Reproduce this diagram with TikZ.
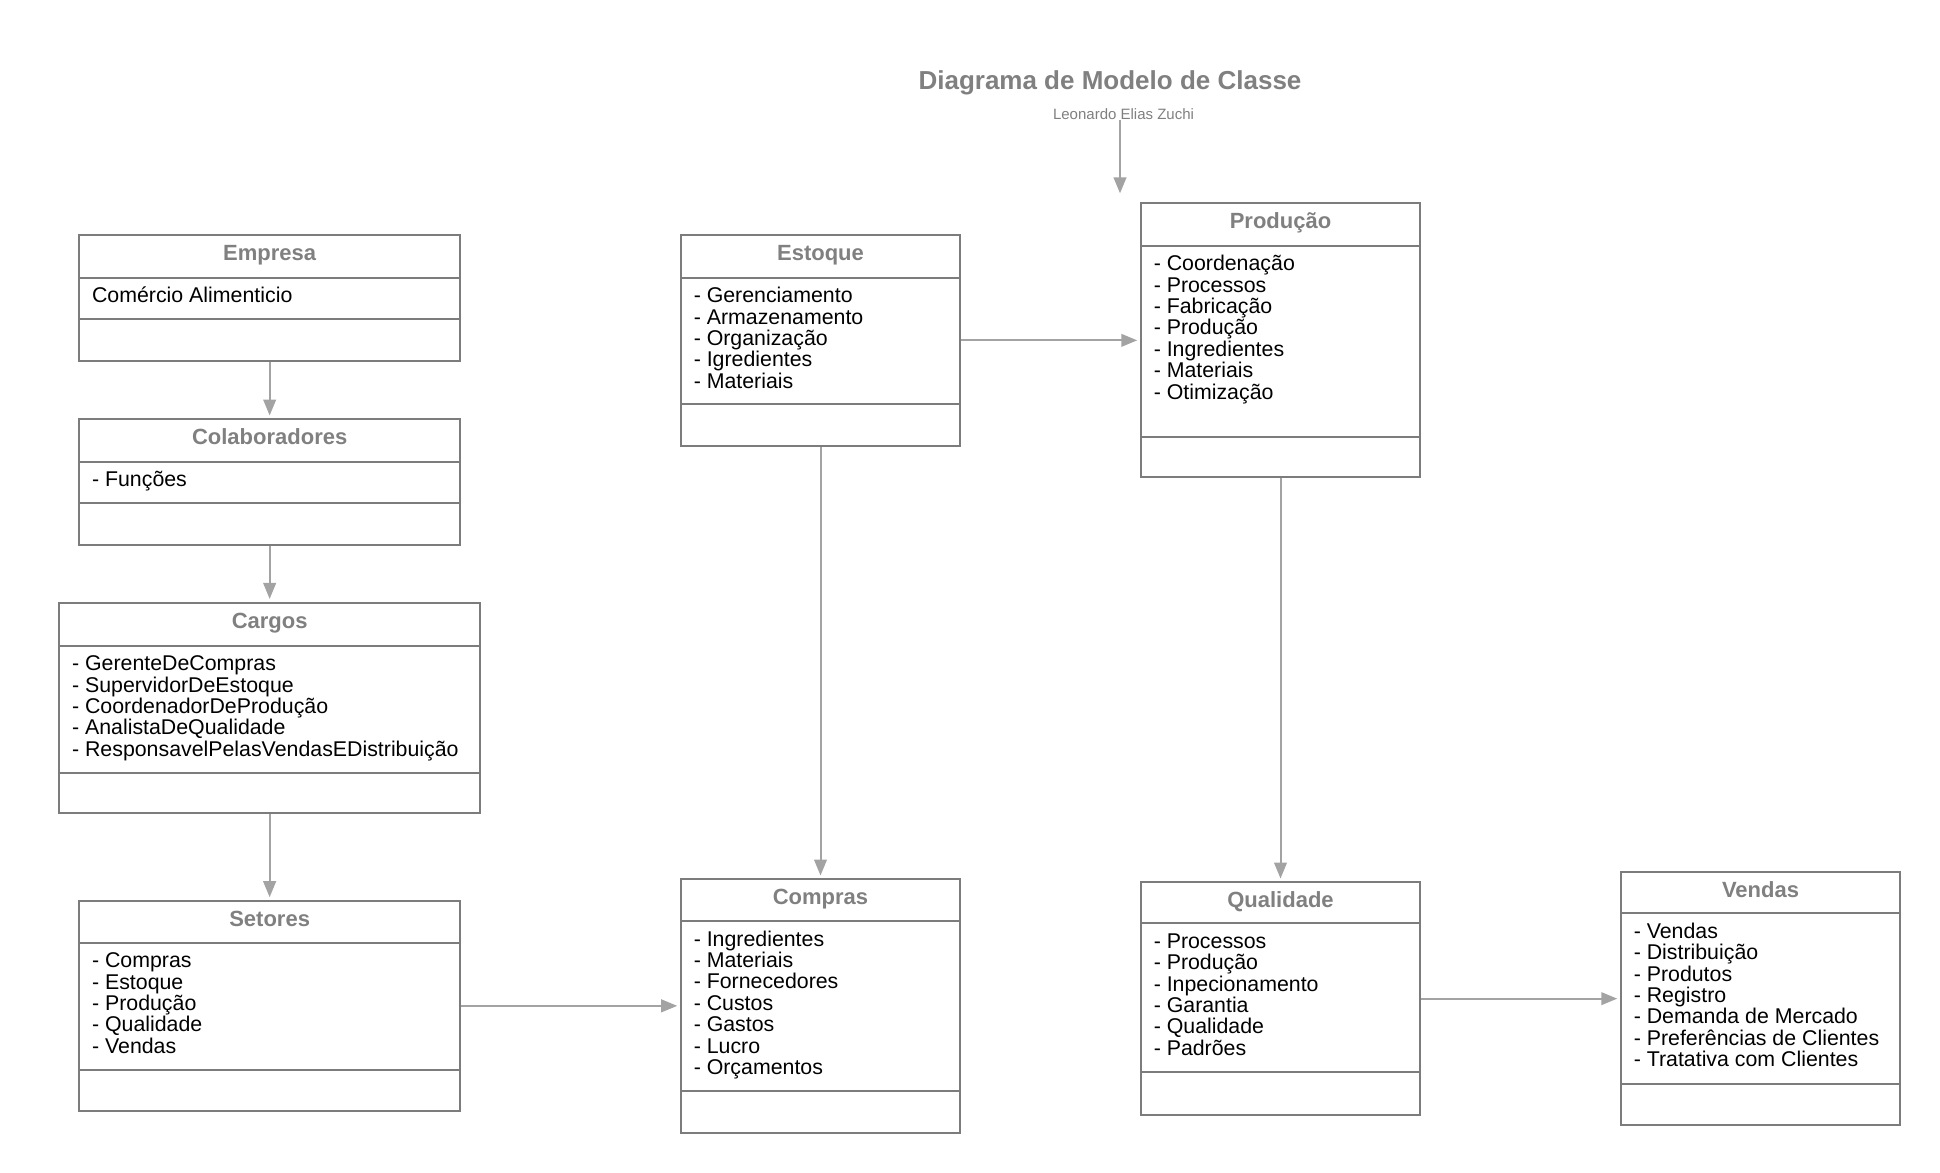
\documentclass[tikz,border=0pt]{standalone}
\usepackage{fontspec}
\setmainfont{Liberation Sans}
\usetikzlibrary{fit,arrows.meta}
\definecolor{framegray}{HTML}{7C7C7C}
\definecolor{titlegray}{HTML}{808080}
\definecolor{conngray}{HTML}{A3A3A3}
\tikzset{
  frame/.style={draw=framegray, line width=1.65pt, inner sep=0pt},
  divider/.style={draw=framegray, line width=1.65pt},
  ctitle/.style={anchor=base, inner sep=0pt, text=titlegray, font=\bfseries\fontsize{16.5}{16.5}\selectfont},
  citem/.style={anchor=base west, inner sep=0pt, text=black, font=\fontsize{16}{16}\selectfont},
  conn/.style={draw=conngray, line width=1.5pt, -{Triangle[length=12pt,width=9.5pt]}, shorten >=2pt},
}
\newcommand\classbox[9]{%
  \node[frame, fit={(#2,#3) (#4,#5)}] (#1) {};
  \draw[divider] (#2,#6) -- (#4,#6);
  \draw[divider] (#2,#7) -- (#4,#7);
  \node[ctitle] (#1-t) at ({(#2+#4)/2},{#3+25.5}) {#8};
  \foreach \t [count=\i] in {#9} \node[citem] (#1-\i) at ({#2+12.5},{#6+25+(\i-1)*21.4}) {\t};
}
\begin{document}
\begin{tikzpicture}[x=0.75pt,y=-0.75pt]
\useasboundingbox (0,0) rectangle (1940,1173);
\node[anchor=base, inner sep=0pt, text=titlegray, font=\bfseries\fontsize{19.5}{19.5}\selectfont] (title) at (1110,90) {Diagrama de Modelo de Classe};
\node[anchor=base, inner sep=0pt, text=titlegray, font=\fontsize{11.25}{11.25}\selectfont] (sub) at (1123.5,120) {Leonardo Elias Zuchi};

\classbox{empresa}{79.3}{235}{460}{360.7}{277.7}{319}{Empresa}{Comércio Alimenticio}
\classbox{colab}{79.3}{419.3}{460}{544.7}{461.7}{503}{Colaboradores}{- Funções}
\classbox{cargos}{59.3}{602.7}{480}{813.3}{645.7}{772.7}{Cargos}{- GerenteDeCompras,- SupervidorDeEstoque,- CoordenadorDeProdução,- AnalistaDeQualidade,- ResponsavelPelasVendasEDistribuição}
\classbox{setores}{79.3}{901}{460}{1110.7}{942.7}{1070}{Setores}{- Compras,- Estoque,- Produção,- Qualidade,- Vendas}
\classbox{estoque}{681}{235}{960}{445.7}{277.7}{404.3}{Estoque}{- Gerenciamento,- Armazenamento,- Organização,- Igredientes,- Materiais}
\classbox{compras}{681}{879.3}{960}{1132.7}{921}{1090.7}{Compras}{- Ingredientes,- Materiais,- Fornecedores,- Custos,- Gastos,- Lucro,- Orçamentos}
\classbox{producao}{1141}{203.3}{1420}{477.3}{245.7}{436.7}{Produção}{- Coordenação,- Processos,- Fabricação,- Produção,- Ingredientes,- Materiais,- Otimização}
\classbox{qualidade}{1141}{882.3}{1420}{1115}{923.3}{1072.3}{Qualidade}{- Processos,- Produção,- Inpecionamento,- Garantia,- Qualidade,- Padrões}
\classbox{vendas}{1621}{871.7}{1900}{1125}{913.3}{1084.3}{Vendas}{- Vendas,- Distribuição,- Produtos,- Registro,- Demanda de Mercado,- Preferências de Clientes,- Tratativa com Clientes}

\coordinate (subend) at (1120,196);
\draw[conn] (sub.south -| subend) -- (subend);
\draw[conn] (empresa.south) -- (colab.north);
\draw[conn] (colab.south) -- (cargos.north);
\draw[conn] (cargos.south) -- (setores.north);
\draw[conn] (setores.east) -- (setores.east -| compras.west);
\draw[conn] (estoque.east) -- (estoque.east -| producao.west);
\draw[conn] (estoque.south) -- (compras.north);
\draw[conn] (producao.south) -- (qualidade.north);
\draw[conn] (qualidade.east) -- (qualidade.east -| vendas.west);
\end{tikzpicture}
\end{document}
